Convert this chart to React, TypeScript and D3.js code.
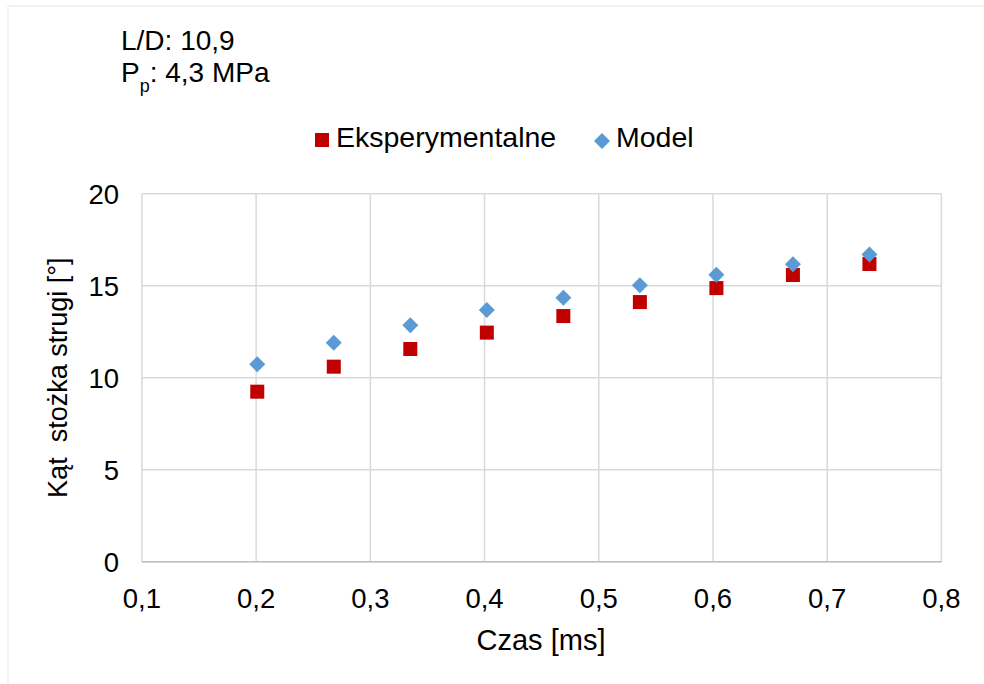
import React from "react";
import * as d3 from "d3";

const timeMs = [0.201, 0.268, 0.335, 0.402, 0.469, 0.536, 0.603, 0.67, 0.737];
const experimental = [9.24, 10.6, 11.56, 12.45, 13.35, 14.11, 14.87, 15.58, 16.18];
const model = [10.73, 11.9, 12.85, 13.68, 14.35, 15.02, 15.6, 16.16, 16.7];
const xTicks = [0.1, 0.2, 0.3, 0.4, 0.5, 0.6, 0.7, 0.8];
const yTicks = [0, 5, 10, 15, 20];
const seriesNames = ["Eksperymentalne", "Model"];

const W = 984;
const H = 684;
const FONT = "'Liberation Sans', Arial, sans-serif";

export default function App() {
  const x = d3.scaleLinear().domain([0.1, 0.8]).range([141.9, 941.4]);
  const y = d3.scaleLinear().domain([0, 20]).range([561.7, 193.7]);
  const fmt = (v: number) => d3.format(".1f")(v).replace(".", ",");
  const sq = 14;
  const dm = 8;
  const diamond = (cx: number, cy: number) =>
    `M${cx},${cy - dm}L${cx + dm},${cy}L${cx},${cy + dm}L${cx - dm},${cy}Z`;

  return (
    <div style={{ position: "absolute", left: 0, top: 0 }}>
      <svg width={W} height={H} style={{ display: "block", background: "#fff" }} fontFamily={FONT}>
        <line x1={8} y1={6} x2={W} y2={6} stroke="#e6e6e6" strokeWidth={1} />
        <line x1={8} y1={6} x2={8} y2={H} stroke="#e6e6e6" strokeWidth={1} />

        <text x={121} y={50} fontSize={28} fill="#000">L/D: 10,9</text>
        <text x={121} y={82} fontSize={28} fill="#000">
          P<tspan fontSize={18} dy={10}>p</tspan><tspan dy={-10}>: 4,3 MPa</tspan>
        </text>

        {/* legend */}
        <rect x={315} y={133} width={sq} height={sq} fill="#C00000" />
        <text x={336} y={147} fontSize={28.5} fill="#000">{seriesNames[0]}</text>
        <path d={diamond(602, 141)} fill="#5B9BD5" />
        <text x={616} y={147} fontSize={28.5} fill="#000">{seriesNames[1]}</text>

        {/* grid */}
        {yTicks.map((t) => (
          <line key={"gy" + t} x1={x(0.1)} x2={x(0.8)} y1={y(t)} y2={y(t)} stroke="#d9d9d9" strokeWidth={1.5} />
        ))}
        {xTicks.map((t) => (
          <line key={"gx" + t} x1={x(t)} x2={x(t)} y1={y(0)} y2={y(20)} stroke="#d9d9d9" strokeWidth={1.5} />
        ))}
        <line x1={x(0.1)} x2={x(0.8)} y1={y(0)} y2={y(0)} stroke="#bfbfbf" strokeWidth={1.5} />

        {/* tick labels */}
        {yTicks.map((t) => (
          <text key={"ty" + t} x={119} y={y(t) + 10.5} fontSize={27.5} textAnchor="end" fill="#000">{t}</text>
        ))}
        {xTicks.map((t) => (
          <text key={"tx" + t} x={x(t)} y={608} fontSize={27.5} textAnchor="middle" fill="#000">{fmt(t)}</text>
        ))}

        {/* axis titles */}
        <text x={541} y={650} fontSize={29} textAnchor="middle" fill="#000">Czas [ms]</text>
        <text
          transform={`translate(67, ${(y(0) + y(20)) / 2}) rotate(-90)`}
          fontSize={27}
          textAnchor="middle"
          fill="#000"
          style={{ whiteSpace: "pre" }}
        >
          {"Kąt  stożka strugi [°]"}
        </text>

        {/* data */}
        {timeMs.map((t, i) => (
          <rect key={"e" + i} x={x(t) - sq / 2} y={y(experimental[i]) - sq / 2} width={sq} height={sq} fill="#C00000" />
        ))}
        {timeMs.map((t, i) => (
          <path key={"m" + i} d={diamond(x(t), y(model[i]))} fill="#5B9BD5" />
        ))}
      </svg>
    </div>
  );
}
